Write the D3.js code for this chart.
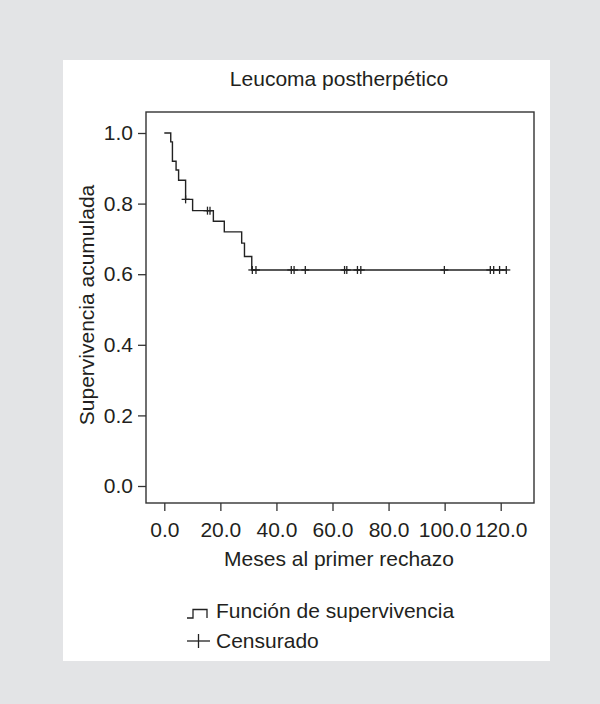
<!DOCTYPE html>
<html>
<head>
<meta charset="utf-8">
<script src="https://cdn.jsdelivr.net/npm/d3@7"></script>
<style>
  html, body { margin: 0; padding: 0; background: #e3e4e6; }
  svg { display: block; }
  text { font-family: "Liberation Sans", Arial, Helvetica, sans-serif; fill: #231f20; }
</style>
</head>
<body>
<svg id="chart" width="600" height="704"></svg>
<script>
// ---- data ----
const title = "Leucoma postherpético";
const xLabel = "Meses al primer rechazo";
const yLabel = "Supervivencia acumulada";
const legendLabels = ["Función de supervivencia", "Censurado"];

// Kaplan–Meier steps: time (months) at which survival drops, and the level after the drop
const stepTimes = [0, 2.3, 2.9, 4.2, 5.1, 7.6, 10.1, 17.5, 21.4, 27.6, 28.6, 31.2];
const stepSurvival = [1.0, 0.975, 0.92, 0.895, 0.866, 0.812, 0.780, 0.750, 0.720, 0.688, 0.650, 0.612];

// censored observations
const censorTimes = [7.6, 15.4, 16.3, 31.4, 32.7, 45.3, 46.3, 50.3, 64.3, 65.1, 68.9, 70.1, 99.9, 116.3, 117.5, 119.6, 122.0];
const censorSurvival = [0.812, 0.780, 0.780, 0.612, 0.612, 0.612, 0.612, 0.612, 0.612, 0.612, 0.612, 0.612, 0.612, 0.612, 0.612, 0.612, 0.612];

const xTicks = [0, 20, 40, 60, 80, 100, 120];
const yTicks = [0, 0.2, 0.4, 0.6, 0.8, 1.0];

// ---- layout ----
const svg = d3.select("#chart");
const ink = "#231f20";
const fs = 21;

svg.append("rect").attr("x", 0).attr("y", 0).attr("width", 600).attr("height", 704).attr("fill", "#e3e4e6");
svg.append("rect").attr("x", 63).attr("y", 60).attr("width", 487).attr("height", 601).attr("fill", "#ffffff");

const box = { left: 146, top: 112, right: 534, bottom: 503 };

const x = d3.scaleLinear().domain([0, 120]).range([164.3, 500.7]);
const y = d3.scaleLinear().domain([0, 1]).range([486, 133]);

// frame
svg.append("rect")
  .attr("x", box.left).attr("y", box.top)
  .attr("width", box.right - box.left).attr("height", box.bottom - box.top)
  .attr("fill", "none").attr("stroke", "#333").attr("stroke-width", 1.4);

// x axis
const gx = svg.append("g").attr("transform", `translate(0,${box.bottom})`)
  .call(d3.axisBottom(x).tickValues(xTicks).tickSize(8).tickSizeOuter(0).tickPadding(11)
        .tickFormat(d3.format(".1f")));
gx.select(".domain").remove();
gx.selectAll("line").attr("stroke", "#333").attr("stroke-width", 1.3);
gx.selectAll("text").attr("font-size", fs).attr("fill", ink)
  .style("font-family", '"Liberation Sans", Arial, sans-serif');

// y axis
const gy = svg.append("g").attr("transform", `translate(${box.left},0)`)
  .call(d3.axisLeft(y).tickValues(yTicks).tickSize(8).tickSizeOuter(0).tickPadding(5)
        .tickFormat(d3.format(".1f")));
gy.select(".domain").remove();
gy.selectAll("line").attr("stroke", "#333").attr("stroke-width", 1.3);
gy.selectAll("text").attr("font-size", fs).attr("fill", ink)
  .style("font-family", '"Liberation Sans", Arial, sans-serif');

// survival step curve
const pts = stepTimes.map((t, i) => [t, stepSurvival[i]]);
pts.push([censorTimes[censorTimes.length - 1], stepSurvival[stepSurvival.length - 1]]);
const line = d3.line().x(d => x(d[0])).y(d => y(d[1])).curve(d3.curveStepAfter);
svg.append("path").attr("d", line(pts))
  .attr("fill", "none").attr("stroke", "#222").attr("stroke-width", 1.4);

// censor marks
const cg = svg.append("g").attr("stroke", "#222").attr("stroke-width", 1.3);
censorTimes.forEach((t, i) => {
  const cx = x(t), cy = y(censorSurvival[i]);
  cg.append("line").attr("x1", cx).attr("x2", cx).attr("y1", cy - 4).attr("y2", cy + 4);
  cg.append("line").attr("x1", cx - 4).attr("x2", cx + 4).attr("y1", cy).attr("y2", cy);
});

// title
svg.append("text").attr("x", 339).attr("y", 86).attr("text-anchor", "middle")
  .attr("font-size", fs).text(title);

// axis titles
svg.append("text").attr("x", 339).attr("y", 566).attr("text-anchor", "middle")
  .attr("font-size", fs).text(xLabel);
svg.append("text").attr("transform", "translate(94,305) rotate(-90)")
  .attr("text-anchor", "middle").attr("font-size", fs).text(yLabel);

// legend
const lg = svg.append("g");
lg.append("path")
  .attr("d", "M187,618 H193 V609.5 H207 V618")
  .attr("fill", "none").attr("stroke", "#222").attr("stroke-width", 1.3);
lg.append("text").attr("x", 216).attr("y", 618).attr("font-size", fs).text(legendLabels[0]);
lg.append("line").attr("x1", 187).attr("x2", 210).attr("y1", 641).attr("y2", 641)
  .attr("stroke", "#222").attr("stroke-width", 1.3);
lg.append("line").attr("x1", 198.5).attr("x2", 198.5).attr("y1", 634).attr("y2", 648)
  .attr("stroke", "#222").attr("stroke-width", 1.3);
lg.append("text").attr("x", 216).attr("y", 648).attr("font-size", fs).text(legendLabels[1]);
</script>
</body>
</html>
